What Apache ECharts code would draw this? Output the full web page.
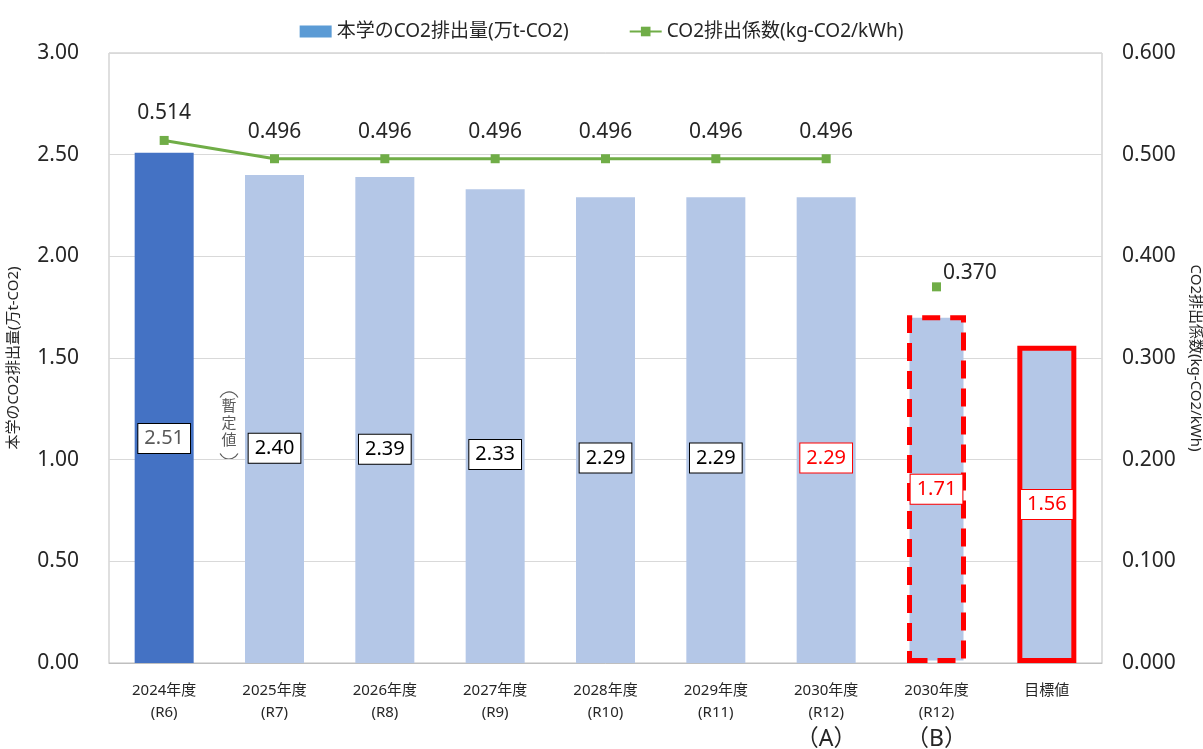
<!DOCTYPE html>
<html>
<head>
<meta charset="utf-8">
<script src="https://cdn.jsdelivr.net/npm/echarts@6/dist/echarts.min.js"></script>
<style>
  html, body { margin: 0; padding: 0; background: #fff; }
  #chart { width: 1203px; height: 749px; }
</style>
</head>
<body>
<div id="chart"></div>
<script>
const categories = ['2024年度\n(R6)', '2025年度\n(R7)', '2026年度\n(R8)', '2027年度\n(R9)', '2028年度\n(R10)',
  '2029年度\n(R11)', '2030年度\n(R12)', '2030年度\n(R12)', '目標値']
const caseMarks = ['', '', '', '', '', '', '（A）', '（B）', '']
const emissions = [2.51, 2.40, 2.39, 2.33, 2.29, 2.29, 2.29, 1.71, 1.56]
const factorLine = [0.514, 0.496, 0.496, 0.496, 0.496, 0.496, 0.496, null, null]
const factorTarget = [null, null, null, null, null, null, null, 0.370, null]
const leftTicks = { min: 0, max: 3, interval: 0.5 }
const rightTicks = { min: 0, max: 0.6, interval: 0.1 }

const barName = '本学のCO2排出量(万t-CO2)'
const lineName = 'CO2排出係数(kg-CO2/kWh)'
const font = "'Noto Sans', 'Noto Sans CJK JP', sans-serif"
const textColor = '#262626'
const noteColor = '#595959'
const red = '#FF0000'

function barItem(value, index) {
  const label = {
    show: true,
    position: ['50%', index >= 7 ? '50%' : '56%'],
    align: 'center',
    verticalAlign: 'middle',
    formatter: (p) => p.value.toFixed(2),
    fontSize: 20,
    fontFamily: font,
    color: '#000',
    backgroundColor: '#fff',
    borderColor: '#000',
    borderWidth: 1,
    padding: [5, 6, 4, 6]
  }
  const itemStyle = { color: '#B4C7E7' }
  if (index === 0) {
    itemStyle.color = '#4472C4'
    label.color = noteColor
  }
  if (index >= 6) {
    label.color = red
    label.borderColor = red
  }
  if (index === 7) {
    itemStyle.borderColor = red
    itemStyle.borderWidth = 5
    itemStyle.borderType = [18, 10]
  }
  if (index === 8) {
    itemStyle.borderColor = red
    itemStyle.borderWidth = 5
  }
  return { value, itemStyle, label }
}

const chart = echarts.init(document.getElementById('chart'))

chart.setOption({
  animation: false,
  textStyle: { fontFamily: font },
  legend: {
    top: 17,
    left: 'center',
    itemGap: 60,
    itemWidth: 32,
    itemHeight: 12,
    textStyle: { fontSize: 19, color: textColor, fontFamily: font },
    data: [
      { name: barName, icon: 'rect' },
      { name: lineName }
    ]
  },
  grid: {
    left: 109,
    right: 101,
    top: 53,
    bottom: 86,
    outerBoundsMode: 'none',
    show: true,
    borderColor: '#BFBFBF',
    borderWidth: 1
  },
  xAxis: {
    type: 'category',
    data: categories,
    axisLine: { lineStyle: { color: '#BFBFBF' } },
    axisTick: { show: false },
    axisLabel: {
      interval: 0,
      margin: 17,
      fontSize: 15,
      lineHeight: 22,
      color: textColor,
      formatter: (value, index) => caseMarks[index] ? value + '\n{mark|' + caseMarks[index] + '}' : value,
      rich: { mark: { fontSize: 23, lineHeight: 30, color: textColor } }
    }
  },
  yAxis: [
    {
      type: 'value',
      ...leftTicks,
      name: barName,
      nameLocation: 'middle',
      nameGap: 88,
      nameTextStyle: { fontSize: 15, color: textColor },
      axisLine: { show: false },
      axisTick: { show: false },
      splitLine: { lineStyle: { color: '#D9D9D9' } },
      axisLabel: {
        margin: 30,
        fontSize: 21,
        color: textColor,
        formatter: (v) => v.toFixed(2)
      }
    },
    {
      type: 'value',
      ...rightTicks,
      name: lineName,
      nameLocation: 'middle',
      nameGap: 86,
      nameRotate: -90,
      nameTextStyle: { fontSize: 15, color: textColor },
      axisLine: { show: false },
      axisTick: { show: false },
      splitLine: { show: false },
      axisLabel: {
        margin: 20,
        fontSize: 21,
        color: textColor,
        formatter: (v) => v.toFixed(3)
      }
    }
  ],
  series: [
    {
      name: barName,
      type: 'bar',
      barWidth: 59,
      itemStyle: { color: '#5B9BD5' },
      data: emissions.map(barItem),
      z: 2
    },
    {
      name: lineName,
      type: 'line',
      yAxisIndex: 1,
      data: factorLine,
      symbol: 'rect',
      symbolSize: 9,
      lineStyle: { color: '#70AD47', width: 3 },
      itemStyle: { color: '#70AD47' },
      label: {
        show: true,
        position: 'top',
        distance: 12,
        fontSize: 21,
        color: textColor,
        formatter: (p) => p.value.toFixed(3)
      },
      z: 3
    },
    {
      name: lineName,
      type: 'line',
      yAxisIndex: 1,
      data: factorTarget,
      symbol: 'rect',
      symbolSize: 9,
      lineStyle: { color: '#70AD47', width: 3 },
      itemStyle: { color: '#70AD47' },
      label: {
        show: true,
        position: 'right',
        distance: 2,
        offset: [0, -14],
        fontSize: 21,
        color: textColor,
        formatter: (p) => p.value.toFixed(3)
      },
      z: 3
    }
  ],
  // vertical note "（暫定値）" beside the 2025 bar
  graphic: [
    {
      type: 'arc',
      shape: { cx: 229, cy: 402, r: 10, startAngle: Math.PI * 1.15, endAngle: Math.PI * 1.85 },
      style: { stroke: noteColor, lineWidth: 1.2, fill: null }
    },
    {
      type: 'text',
      x: 229,
      y: 398,
      style: { text: '暫\n定\n値', fontSize: 15, lineHeight: 17, fill: noteColor, align: 'center', fontFamily: font }
    },
    {
      type: 'arc',
      shape: { cx: 229, cy: 449, r: 10, startAngle: Math.PI * 0.15, endAngle: Math.PI * 0.85 },
      style: { stroke: noteColor, lineWidth: 1.2, fill: null }
    }
  ]
})
</script>
</body>
</html>
